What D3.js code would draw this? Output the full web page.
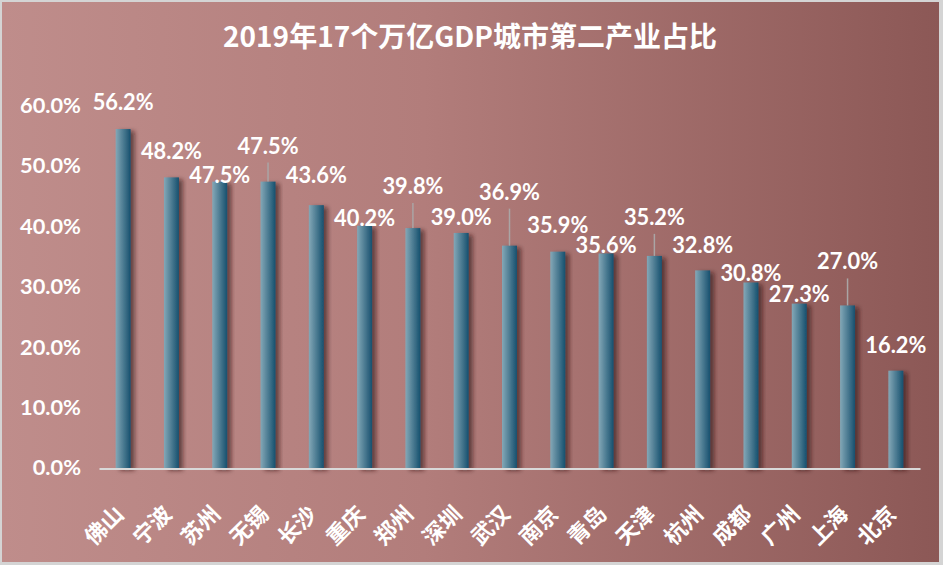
<!DOCTYPE html>
<html>
<head>
<meta charset="utf-8">
<script src="https://cdn.jsdelivr.net/npm/d3@7"></script>
<style>
  html, body { margin: 0; padding: 0; background: #d4d4d4; }
  svg { display: block; }
</style>
</head>
<body>
<svg id="chart" width="943" height="565"></svg>
<script>
const title = '2019年17个万亿GDP城市第二产业占比';
const categories = ['佛山','宁波','苏州','无锡','长沙','重庆','郑州','深圳','武汉','南京','青岛','天津','杭州','成都','广州','上海','北京'];
const values = [56.2, 48.2, 47.5, 47.5, 43.6, 40.2, 39.8, 39.0, 36.9, 35.9, 35.6, 35.2, 32.8, 30.8, 27.3, 27.0, 16.2];
const yTicks = [0, 10, 20, 30, 40, 50, 60];

// layout: how far (px) each value label sits above its bar top
const labelLift = [27, 26, 7, 36, 30, 8, 42, 16, 54, 27, 8.5, 39, 25.5, 9.5, 10, 44, 26];

const W = 943, H = 565;
const svg = d3.select('#chart');
const defs = svg.append('defs');

const bg = defs.append('linearGradient').attr('id', 'bg').attr('x1', 0).attr('x2', 1).attr('y1', 0).attr('y2', 0);
bg.append('stop').attr('offset', '0%').attr('stop-color', '#bf8d8b');
bg.append('stop').attr('offset', '45%').attr('stop-color', '#b27d7b');
bg.append('stop').attr('offset', '100%').attr('stop-color', '#8c5856');

const barG = defs.append('linearGradient').attr('id', 'barGrad').attr('x1', 0).attr('x2', 1).attr('y1', 0).attr('y2', 0);
barG.append('stop').attr('offset', '0%').attr('stop-color', '#84a8b7');
barG.append('stop').attr('offset', '100%').attr('stop-color', '#16506e');

const sh = defs.append('filter').attr('id', 'shadow').attr('x', '-50%').attr('y', '-10%').attr('width', '200%').attr('height', '120%');
sh.append('feDropShadow').attr('dx', 4).attr('dy', 2).attr('stdDeviation', 2)
  .attr('flood-color', '#2a1010').attr('flood-opacity', 0.6);

svg.append('rect').attr('x', 2).attr('y', 2).attr('width', 937).attr('height', 560).attr('fill', 'url(#bg)');

const x = d3.scaleBand().domain(categories).range([99, 920]).paddingInner(0.69).paddingOuter(0.345);
const y = d3.scaleLinear().domain([0, 60]).range([468.5, 106.1]);

// title
svg.append('text')
  .attr('x', 470).attr('y', 47)
  .attr('text-anchor', 'middle')
  .attr('fill', '#fff')
  .style('font-family', '"Noto Sans CJK SC", sans-serif')
  .style('font-weight', 'bold')
  .style('font-size', '28px')
  .text(title);

// y axis
const yAxis = svg.append('g')
  .attr('transform', 'translate(99,0)')
  .call(d3.axisLeft(y).tickValues(yTicks).tickSize(0).tickPadding(18).tickFormat(d => d.toFixed(1) + '%'));
yAxis.select('.domain').remove();
yAxis.selectAll('text')
  .attr('fill', '#fff')
  .style('font-family', 'Lato, "Liberation Sans", sans-serif')
  .style('font-weight', 'bold')
  .style('font-size', '20px');
{
  const ref = yAxis.selectAll('text').nodes();
  const top = ref[ref.length - 1];
  const k = 61 / top.getComputedTextLength();
  ref.forEach(n => {
    n.setAttribute('textLength', n.getComputedTextLength() * k);
    n.setAttribute('lengthAdjust', 'spacingAndGlyphs');
  });
}

// bars
svg.append('g').selectAll('rect')
  .data(values)
  .join('rect')
  .attr('x', (d, i) => x(categories[i]))
  .attr('y', d => y(d))
  .attr('width', x.bandwidth())
  .attr('height', d => y(0) - y(d))
  .attr('fill', 'url(#barGrad)')
  .attr('filter', 'url(#shadow)');

// x axis
const xAxis = svg.append('g')
  .attr('transform', `translate(0,${y(0)})`)
  .call(d3.axisBottom(x).tickSize(0).tickSizeOuter(0));
xAxis.select('.domain').attr('stroke', '#d9d9d9').attr('stroke-width', 2);
xAxis.selectAll('text')
  .attr('text-anchor', 'end')
  .attr('x', 0).attr('y', 0).attr('dy', 0)
  .attr('transform', 'translate(2,47) rotate(-45)')
  .attr('fill', '#fff')
  .style('font-family', '"Noto Sans CJK SC", sans-serif')
  .style('font-weight', 'bold')
  .style('font-size', '22px');

// leader lines
const cx = i => x(categories[i]) + x.bandwidth() / 2;
const leaders = values.map((v, i) => ({ v, i, lift: labelLift[i] })).filter(d => d.lift > 34);
svg.append('g').selectAll('line')
  .data(leaders)
  .join('line')
  .attr('x1', d => cx(d.i)).attr('x2', d => cx(d.i))
  .attr('y1', d => y(d.v) - d.lift + 17)
  .attr('y2', d => y(d.v))
  .attr('stroke', '#aaa5a5')
  .attr('stroke-width', 1.5);

// value labels
const lbl = svg.append('g').selectAll('text')
  .data(values)
  .join('text')
  .attr('x', (d, i) => cx(i))
  .attr('y', (d, i) => y(d) - labelLift[i])
  .attr('dy', '0.36em')
  .attr('text-anchor', 'middle')
  .attr('fill', '#fff')
  .style('font-family', 'Lato, "Liberation Sans", sans-serif')
  .style('font-weight', 'bold')
  .style('font-size', '22px')
  .text(d => d.toFixed(1) + '%');
lbl.each(function () {
  this.setAttribute('textLength', 61);
  this.setAttribute('lengthAdjust', 'spacingAndGlyphs');
});
</script>
</body>
</html>
